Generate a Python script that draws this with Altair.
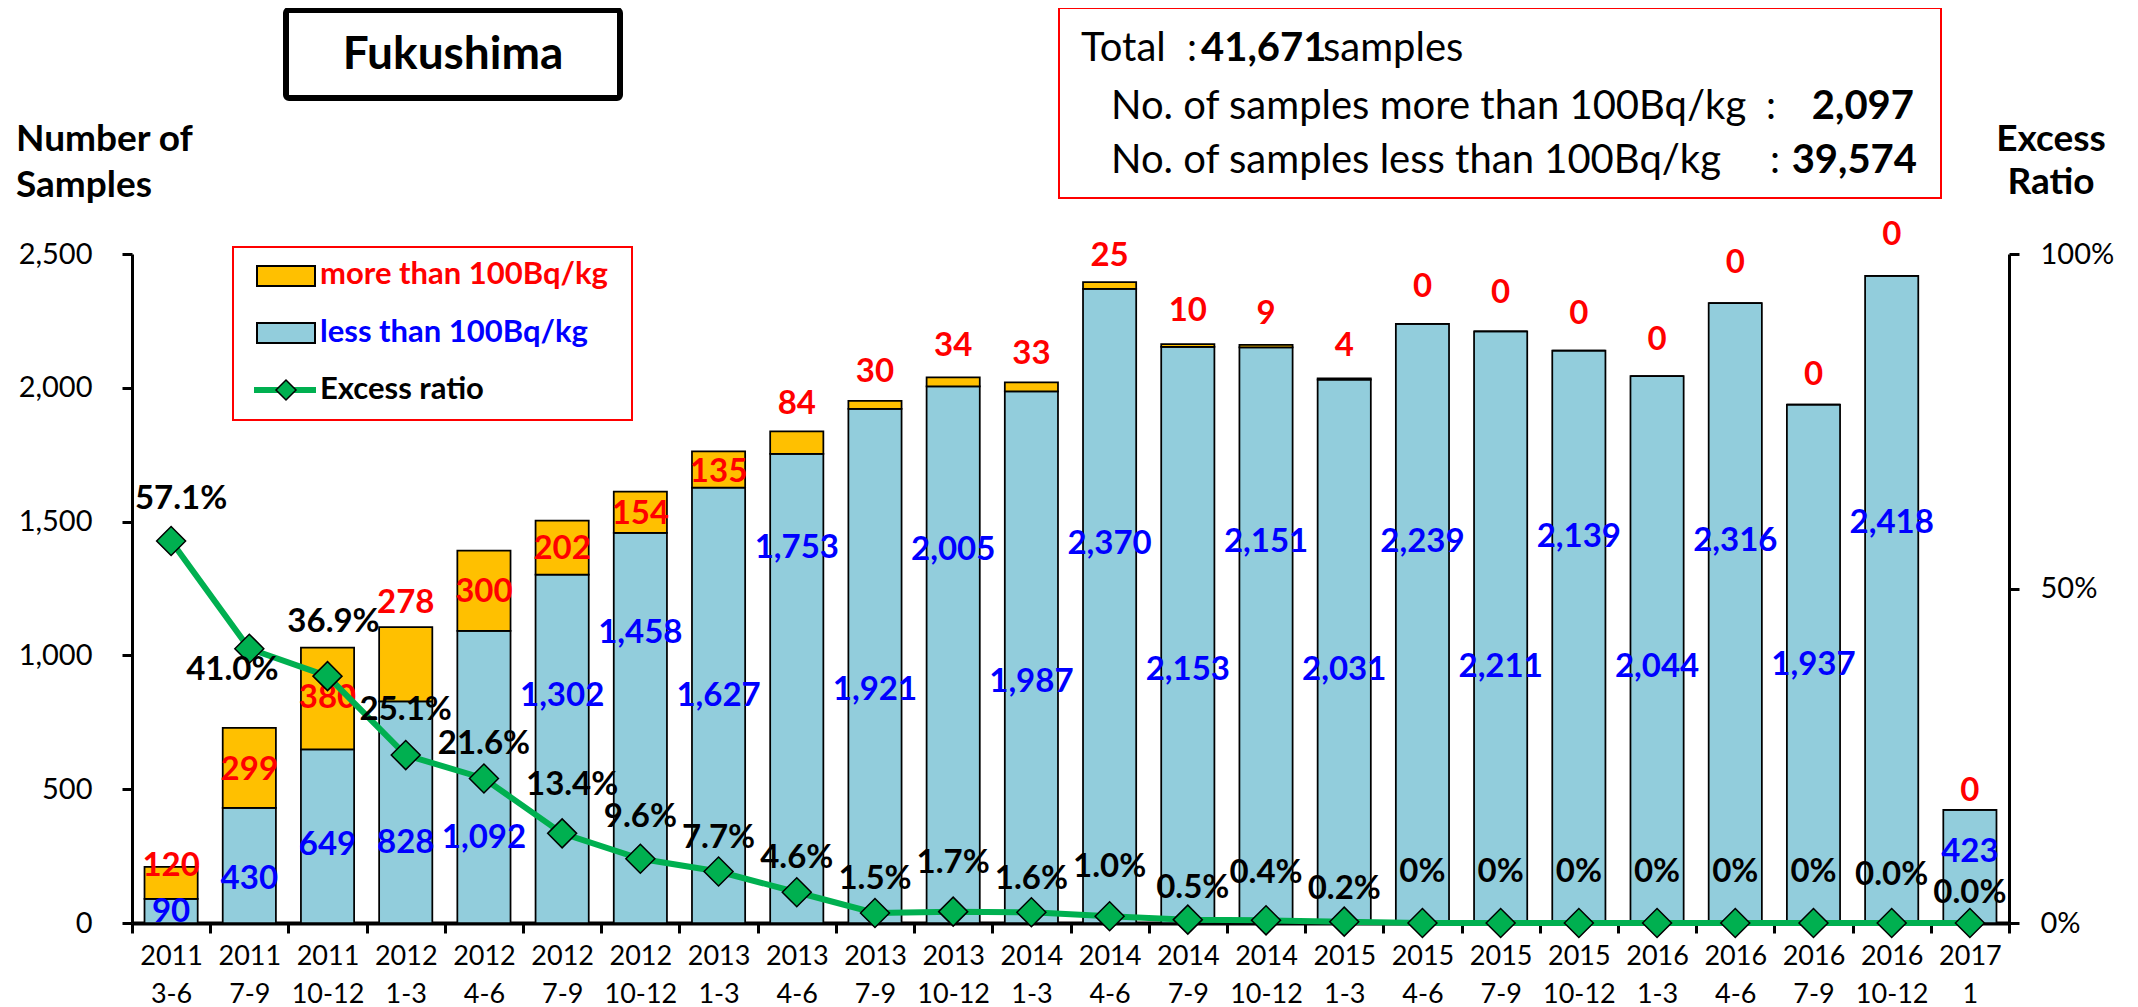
import altair as alt
import pandas as pd

# ---------------- data ----------------
periods = ["2011 3-6", "2011 7-9", "2011 10-12", "2012 1-3", "2012 4-6", "2012 7-9",
           "2012 10-12", "2013 1-3", "2013 4-6", "2013 7-9", "2013 10-12", "2014 1-3",
           "2014 4-6", "2014 7-9", "2014 10-12", "2015 1-3", "2015 4-6", "2015 7-9",
           "2015 10-12", "2016 1-3", "2016 4-6", "2016 7-9", "2016 10-12", "2017 1"]
less_than = [90, 430, 649, 828, 1092, 1302, 1458, 1627, 1753, 1921, 2005, 1987,
             2370, 2153, 2151, 2031, 2239, 2211, 2139, 2044, 2316, 1937, 2418, 423]
more_than = [120, 299, 380, 278, 300, 202, 154, 135, 84, 30, 34, 33,
             25, 10, 9, 4, 0, 0, 0, 0, 0, 0, 0, 0]
excess_ratio = [0.571, 0.410, 0.369, 0.251, 0.216, 0.134, 0.096, 0.077, 0.046, 0.015, 0.017, 0.016,
                0.010, 0.005, 0.004, 0.002, 0.0, 0.0, 0.0, 0.0, 0.0, 0.0, 0.0, 0.0]
ratio_labels = ["57.1%", "41.0%", "36.9%", "25.1%", "21.6%", "13.4%", "9.6%", "7.7%",
                "4.6%", "1.5%", "1.7%", "1.6%", "1.0%", "0.5%", "0.4%", "0.2%",
                "0%", "0%", "0%", "0%", "0%", "0%", "0.0%", "0.0%"]

# label anchor heights (hand placed in the original), in axis units
less_label_at = [40, 164, 291, 299, 317, 849, 1083, 849, 1401, 870, 1393, 900,
                 1416, 945, 1423, 945, 1423, 956, 1442, 956, 1427, 964, 1494, 265]
more_label_at = [213, 572, 840, 1195, 1237, 1397, 1528, 1686, 1939, 2059, 2156, 2126,
                 2492, 2287, 2276, 2156, 2377, 2354, 2276, 2179, 2466, 2048, 2571, 493]
ratio_label_at = [0.634, 0.378, 0.450, 0.318, 0.268, 0.206, 0.158, 0.127, 0.097, 0.066, 0.090, 0.066,
                  0.084, 0.052, 0.075, 0.051, 0.076, 0.076, 0.076, 0.076, 0.076, 0.076, 0.072, 0.045]
ratio_label_dx = [10, -17, 6, 0, 0, 10, 0, 0, 0, 0, 0, 0,
                  0, 5, 0, 0, 0, 0, 0, 0, 0, 0, 0, 0]

left_ticks = [0, 500, 1000, 1500, 2000, 2500]
right_ticks = [0, 0.5, 1]

df = pd.DataFrame({
    "period": periods,
    "less": less_than,
    "more": more_than,
    "ratio": excess_ratio,
    "ratio_label": ratio_labels,
    "less_at": less_label_at,
    "more_at": more_label_at,
    "ratio_at": ratio_label_at,
    "rdx": ratio_label_dx,
})
df["total"] = df["less"] + df["more"]

FONT = "Lato"
BLUE_FILL = "#92CDDC"
ORANGE = "#FFC000"
GREEN = "#00B050"

W, H = 1877, 669

x_enc = alt.X("period:N", sort=periods,
              scale=alt.Scale(domain=periods, paddingInner=0, paddingOuter=0),
              axis=alt.Axis(title=None, labelAngle=0, labelExpr="split(datum.label, ' ')",
                            labelFontSize=27, labelLineHeight=38, labelFont=FONT,
                            labelColor="black", labelOverlap=False, labelPadding=10,
                            tickBand="extent", tickSize=10, tickWidth=3, tickColor="black",
                            domainWidth=4, domainColor="black", grid=False))

left_scale = alt.Scale(domain=[0, 2500], nice=False, zero=True)
left_axis = alt.Axis(title=None, values=left_ticks, format=",.0f", orient="left",
                     labelFontSize=29, labelFont=FONT, labelColor="black", labelPadding=30,
                     tickSize=10, tickWidth=3, tickColor="black",
                     domainWidth=3, domainColor="black", grid=False)
right_scale = alt.Scale(domain=[0, 1], nice=False, zero=True)
right_axis = alt.Axis(title=None, values=right_ticks, format=".0%", orient="right",
                      labelFontSize=29, labelFont=FONT, labelColor="black", labelPadding=21,
                      tickSize=10, tickWidth=3, tickColor="black",
                      domainWidth=3, domainColor="black", grid=False)

base = alt.Chart(df)

bars_less = base.mark_bar(width=alt.RelativeBandSize(0.68), fill=BLUE_FILL,
                          stroke="black", strokeWidth=1.75).encode(
    x=x_enc,
    y=alt.Y("less:Q", scale=left_scale, axis=left_axis),
)
bars_more = base.mark_bar(width=alt.RelativeBandSize(0.68), fill=ORANGE,
                          stroke="black", strokeWidth=1.75).encode(
    x=x_enc,
    y=alt.Y("less:Q", scale=left_scale, axis=left_axis),
    y2="total:Q",
)
txt_less = base.mark_text(font=FONT, fontWeight="bold", fontSize=33, color="#0000FF",
                          baseline="middle").encode(
    x=x_enc,
    y=alt.Y("less_at:Q", scale=left_scale, axis=left_axis),
    text=alt.Text("less:Q", format=","),
)
txt_more = base.mark_text(font=FONT, fontWeight="bold", fontSize=33, color="#FF0000",
                          baseline="middle").encode(
    x=x_enc,
    y=alt.Y("more_at:Q", scale=left_scale, axis=left_axis),
    text=alt.Text("more:Q", format=","),
)
left = alt.layer(bars_less, bars_more, txt_less, txt_more)

line = base.mark_line(color=GREEN, strokeWidth=6).encode(
    x=x_enc,
    y=alt.Y("ratio:Q", scale=right_scale, axis=right_axis),
)
points = base.mark_point(shape="diamond", filled=True, fill=GREEN, stroke="black",
                         strokeWidth=1.5, size=840, opacity=1).encode(
    x=x_enc,
    y=alt.Y("ratio:Q", scale=right_scale, axis=right_axis),
)
ratio_text_layers = []
for shift in sorted(set(ratio_label_dx)):
    ratio_text_layers.append(
        base.transform_filter(alt.datum.rdx == shift).mark_text(
            font=FONT, fontWeight="bold", fontSize=33, color="black",
            baseline="middle", dx=shift).encode(
            x=x_enc,
            y=alt.Y("ratio_at:Q", scale=right_scale, axis=right_axis),
            text="ratio_label:N",
        )
    )
right = alt.layer(line, points, *ratio_text_layers)

# ---------------- annotations (pixel positions relative to plot area) ----------------
one = pd.DataFrame({"k": [0]})
ann = alt.Chart(one)


def box(x1, x2, y1, y2, fill, stroke, sw, radius=0):
    return ann.mark_rect(fill=fill, stroke=stroke, strokeWidth=sw, cornerRadius=radius).encode(
        x=alt.value(x1), x2=alt.value(x2), y=alt.value(y1), y2=alt.value(y2))


def label(x, y, text, size, weight="normal", color="black", align="left"):
    return ann.mark_text(font=FONT, fontSize=size, fontWeight=weight, color=color,
                         align=align, baseline="middle").encode(
        x=alt.value(x), y=alt.value(y), text=alt.value(text))


annotations = [
    # title box
    box(154, 488, -244, -156, "white", "black", 6, 3),
    label(321, -199, "Fukushima", 46, "bold", align="center"),
    # axis titles
    label(-116, -114, "Number of", 37, "bold"),
    label(-116, -68, "Samples", 37, "bold"),
    label(1919, -114, "Excess", 37, "bold", align="center"),
    label(1919, -71, "Ratio", 37, "bold", align="center"),
    # legend
    box(101, 500, -7, 166, "white", "#FF0000", 2),
    box(125, 183, 12, 32, ORANGE, "black", 2),
    box(125, 183, 69, 89, BLUE_FILL, "black", 2),
    ann.mark_rule(color=GREEN, strokeWidth=6).encode(
        x=alt.value(122), x2=alt.value(184), y=alt.value(136)),
    ann.mark_point(shape="diamond", filled=True, fill=GREEN, stroke="black",
                   strokeWidth=1.5, size=400, opacity=1).encode(
        x=alt.value(154), y=alt.value(136)),
    label(188, 21, "more than 100Bq/kg", 31, "bold", "#FF0000"),
    label(188, 79, "less than 100Bq/kg", 31, "bold", "#0000FF"),
    label(188, 136, "Excess ratio", 31, "bold", "black"),
    # summary box
    box(927, 1809, -246, -56, "white", "#FF0000", 2),
    label(949, -205, "Total", 40),
    label(1060, -205, ":", 40, align="center"),
    label(1069, -205, "41,671", 40, "bold"),
    label(1191, -205, "samples", 40),
    label(979, -147, "No. of samples more than 100Bq/kg", 40),
    label(1639, -147, ":", 40, align="center"),
    label(1782, -147, "2,097", 40, "bold", align="right"),
    label(979, -93, "No. of samples less than 100Bq/kg", 40),
    label(1643, -93, ":", 40, align="center"),
    label(1785, -93, "39,574", 40, "bold", align="right"),
]

chart = alt.layer(left, right, *annotations).resolve_scale(y="independent").properties(
    width=W, height=H,
    padding={"left": 124, "top": 246, "right": 121, "bottom": 84},
    autosize=alt.AutoSizeParams(type="none"),
    background="white",
).configure_view(stroke=None)

chart.save("out.html", embed_options={"renderer": "svg", "actions": False})
